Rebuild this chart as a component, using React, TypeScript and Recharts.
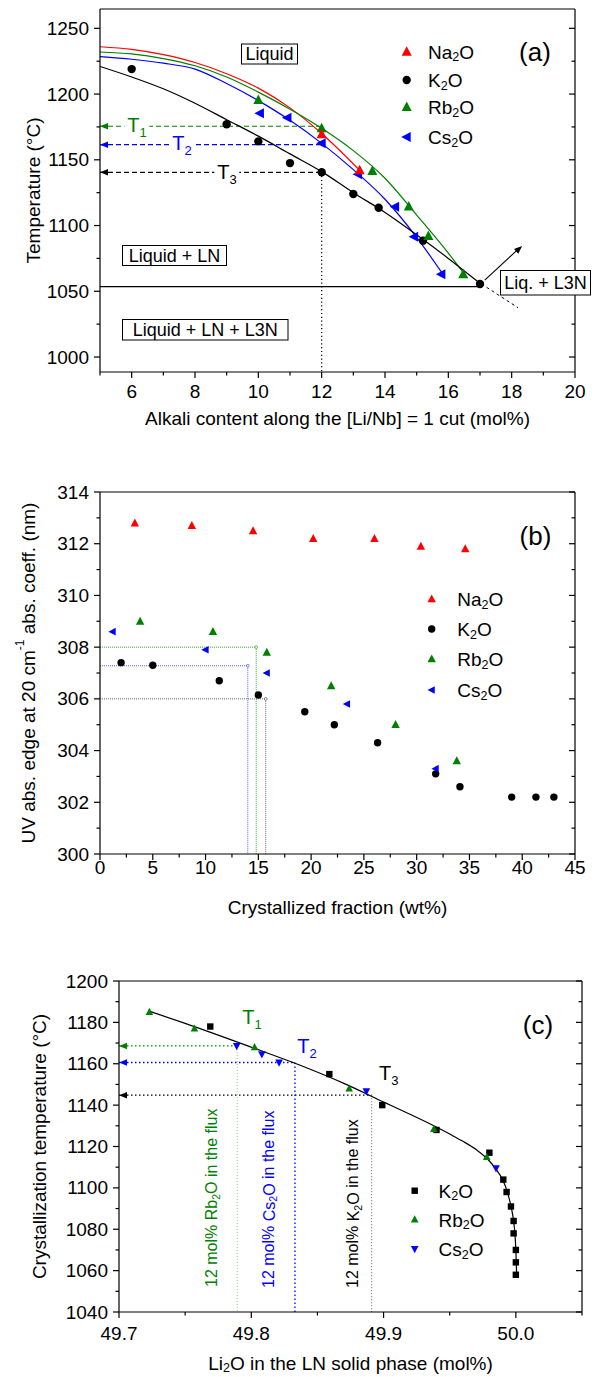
import React from "react";
import { ComposedChart, Line, Scatter, XAxis, YAxis, ReferenceLine, ReferenceDot } from "recharts";

const FONT = "'Liberation Sans', Arial, Helvetica, sans-serif";
const RED = "#ff0000";
const GREEN = "#008000";
const BLUE = "#0000ff";
const INK = "#000000";

// ---------- (a) liquidus along the [Li/Nb] = 1 cut ----------
const aXTicks = [5, 6, 7, 8, 9, 10, 11, 12, 13, 14, 15, 16, 17, 18, 19, 20];
const aXMajor = [6, 8, 10, 12, 14, 16, 18, 20];
const aYTicks = [1000, 1025, 1050, 1075, 1100, 1125, 1150, 1175, 1200, 1225, 1250];
const aYMajor = [1000, 1050, 1100, 1150, 1200, 1250];

const aNaPts = [{ x: 12, y: 1169.5 }, { x: 13.2, y: 1142 }];
const aKPts = [
  { x: 6, y: 1219 }, { x: 9, y: 1177 }, { x: 10, y: 1164 }, { x: 11, y: 1147.5 }, { x: 12, y: 1140.5 },
  { x: 13, y: 1124 }, { x: 13.8, y: 1113.5 }, { x: 15.2, y: 1088.5 }, { x: 17, y: 1055.5 },
];
const aRbPts = [
  { x: 10, y: 1195.5 }, { x: 12, y: 1174 }, { x: 13.6, y: 1141.5 }, { x: 14.75, y: 1114.5 },
  { x: 15.37, y: 1092 }, { x: 16.47, y: 1063 },
];
const aCsPts = [
  { x: 10.05, y: 1185.5 }, { x: 10.92, y: 1182 }, { x: 12, y: 1162.5 }, { x: 13.15, y: 1139 },
  { x: 14.32, y: 1114.3 }, { x: 14.92, y: 1091.5 }, { x: 15.78, y: 1063 },
];

const aNaCurve = [
  { x: 5, y: 1236 }, { x: 6, y: 1234 }, { x: 7, y: 1230 }, { x: 8, y: 1224 }, { x: 9, y: 1215.5 },
  { x: 10, y: 1204.5 }, { x: 11, y: 1189.5 }, { x: 12, y: 1170 }, { x: 13.2, y: 1142 },
];
const aKCurve = [
  { x: 5, y: 1221 }, { x: 6, y: 1213 }, { x: 7, y: 1204 }, { x: 8, y: 1193 }, { x: 9, y: 1180.5 },
  { x: 10, y: 1168 }, { x: 11, y: 1154.5 }, { x: 12, y: 1141 }, { x: 13, y: 1125 }, { x: 14, y: 1110 },
  { x: 15, y: 1093 }, { x: 16, y: 1075 }, { x: 17, y: 1056 },
];
const aRbCurve = [
  { x: 5, y: 1232 }, { x: 6, y: 1230.5 }, { x: 7, y: 1227 }, { x: 8, y: 1221.5 }, { x: 9, y: 1213 },
  { x: 10, y: 1201.5 }, { x: 11, y: 1188.5 }, { x: 12, y: 1174 }, { x: 13, y: 1157 }, { x: 14, y: 1136 },
  { x: 15, y: 1108 }, { x: 16, y: 1079 }, { x: 16.6, y: 1060 },
];
const aCsCurve = [
  { x: 5, y: 1228.5 }, { x: 6, y: 1226.5 }, { x: 7, y: 1223.5 }, { x: 8, y: 1219 }, { x: 9, y: 1208 },
  { x: 10, y: 1195 }, { x: 11, y: 1180 }, { x: 12, y: 1162.5 }, { x: 13, y: 1142.5 }, { x: 14, y: 1120 },
  { x: 15, y: 1091 }, { x: 15.8, y: 1064 },
];

// ---------- (b) UV edge vs crystallized fraction ----------
const bXTicks = [0, 2.5, 5, 7.5, 10, 12.5, 15, 17.5, 20, 22.5, 25, 27.5, 30, 32.5, 35, 37.5, 40, 42.5, 45];
const bXMajor = [0, 5, 10, 15, 20, 25, 30, 35, 40, 45];
const bYTicks = [300, 301, 302, 303, 304, 305, 306, 307, 308, 309, 310, 311, 312, 313, 314];
const bYMajor = [300, 302, 304, 306, 308, 310, 312, 314];

const bNaPts = [
  { x: 3.3, y: 312.8 }, { x: 8.7, y: 312.7 }, { x: 14.5, y: 312.5 }, { x: 20.2, y: 312.2 },
  { x: 26, y: 312.2 }, { x: 30.4, y: 311.9 }, { x: 34.6, y: 311.8 },
];
const bKPts = [
  { x: 2, y: 307.4 }, { x: 5, y: 307.3 }, { x: 11.3, y: 306.7 }, { x: 15, y: 306.15 }, { x: 19.4, y: 305.5 },
  { x: 22.2, y: 305 }, { x: 26.3, y: 304.3 }, { x: 31.8, y: 303.1 }, { x: 34.1, y: 302.6 },
  { x: 39, y: 302.2 }, { x: 41.3, y: 302.2 }, { x: 43, y: 302.2 },
];
const bRbPts = [
  { x: 3.8, y: 309 }, { x: 10.7, y: 308.6 }, { x: 15.8, y: 307.8 }, { x: 21.9, y: 306.5 },
  { x: 28, y: 305 }, { x: 33.8, y: 303.6 },
];
const bCsPts = [
  { x: 1.2, y: 308.6 }, { x: 10, y: 307.9 }, { x: 15.8, y: 307 }, { x: 23.4, y: 305.8 }, { x: 31.8, y: 303.3 },
];

// ---------- (c) crystallization temperature vs Li2O in LN ----------
const cXTicks = [49.7, 49.75, 49.8, 49.85, 49.9, 49.95, 50.0, 50.05];
const cXMajor = [49.7, 49.8, 49.9, 50.0];
const cYTicks = [1040, 1050, 1060, 1070, 1080, 1090, 1100, 1110, 1120, 1130, 1140, 1150, 1160, 1170, 1180, 1190, 1200];
const cYMajor = [1040, 1060, 1080, 1100, 1120, 1140, 1160, 1180, 1200];

const cKPts = [
  { x: 49.769, y: 1178 }, { x: 49.859, y: 1155 }, { x: 49.899, y: 1140 }, { x: 49.94, y: 1128 },
  { x: 49.98, y: 1117 }, { x: 49.9905, y: 1104 }, { x: 49.993, y: 1098 }, { x: 49.9963, y: 1091 },
  { x: 49.9983, y: 1084 }, { x: 49.9983, y: 1078 }, { x: 50.0, y: 1070 }, { x: 50.0, y: 1064 }, { x: 50.0, y: 1058 },
];
const cRbPts = [
  { x: 49.723, y: 1185 }, { x: 49.757, y: 1177 }, { x: 49.8025, y: 1168 }, { x: 49.874, y: 1148 },
  { x: 49.938, y: 1128.5 }, { x: 49.978, y: 1115 },
];
const cCsPts = [
  { x: 49.789, y: 1168.6 }, { x: 49.808, y: 1164.6 }, { x: 49.821, y: 1160.6 }, { x: 49.887, y: 1146.7 },
  { x: 49.985, y: 1109.5 },
];
const cCurve = [
  { x: 49.7234, y: 1185.3 }, { x: 49.75, y: 1179.5 }, { x: 49.8, y: 1168 }, { x: 49.836, y: 1159.5 },
  { x: 49.87, y: 1150.5 }, { x: 49.9, y: 1141.5 }, { x: 49.938, y: 1130 }, { x: 49.95, y: 1126 },
  { x: 49.96, y: 1122.5 }, { x: 49.97, y: 1118.5 }, { x: 49.98, y: 1113 }, { x: 49.985, y: 1109 },
  { x: 49.99, y: 1104 }, { x: 49.994, y: 1097 }, { x: 49.997, y: 1089 }, { x: 49.999, y: 1080 },
  { x: 50.0, y: 1070 }, { x: 50.0006, y: 1058 },
];

// ---------- helpers ----------
const axisStroke = { stroke: INK, strokeWidth: 1.2 };

function drawMarker(kind: string, cx: number, cy: number, s: number, color: string) {
  switch (kind) {
    case "circle":
      return <circle cx={cx} cy={cy} r={s} fill={color} />;
    case "up":
      return <path d={`M${cx},${cy - s * 1.1}L${cx + s},${cy + s * 0.8}L${cx - s},${cy + s * 0.8}Z`} fill={color} />;
    case "down":
      return <path d={`M${cx},${cy + s * 1.1}L${cx + s},${cy - s * 0.8}L${cx - s},${cy - s * 0.8}Z`} fill={color} />;
    case "left":
      return <path d={`M${cx - s * 1.1},${cy}L${cx + s * 0.8},${cy - s}L${cx + s * 0.8},${cy + s}Z`} fill={color} />;
    default:
      return <rect x={cx - s} y={cy - s} width={2 * s} height={2 * s} fill={color} />;
  }
}
const marker = (kind: string, color: string, s: number) => (p: any) => drawMarker(kind, p.cx, p.cy, s, color);

// arrow head with the tip on the point, pointing at `angle` degrees
const arrowHead = (color: string, angle = 180) => (p: any) => (
  <path
    d="M0,0L-8,-3.2L-8,3.2Z"
    fill={color}
    transform={`translate(${p.cx},${p.cy}) rotate(${angle})`}
  />
);

function AxisTick(props: any) {
  const { x, y, payload, side, majors, digits = 0, dy = 25 } = props;
  const v = payload.value;
  const major = majors.some((m: number) => Math.abs(m - v) < 1e-6);
  const len = major ? 6 : 3.5;
  const label = major ? v.toFixed(digits) : "";
  const txt = { fontSize: 19, fontFamily: FONT, fill: INK };
  if (side === "left")
    return (
      <g>
        <line x1={x} y1={y} x2={x - len} y2={y} stroke={INK} strokeWidth={1.2} />
        {major && <text x={x - 11} y={y} textAnchor="end" dominantBaseline="central" {...txt}>{label}</text>}
      </g>
    );
  if (side === "right") return <line x1={x} y1={y} x2={x - len} y2={y} stroke={INK} strokeWidth={1.2} />;
  if (side === "top") return <line x1={x} y1={y} x2={x} y2={y + len} stroke={INK} strokeWidth={1.2} />;
  return (
    <g>
      <line x1={x} y1={y} x2={x} y2={y + len} stroke={INK} strokeWidth={1.2} />
      {major && <text x={x} y={y + dy} textAnchor="middle" {...txt}>{label}</text>}
    </g>
  );
}

function frameAxes(xDom: number[], yDom: number[], xT: number[], xM: number[], yT: number[], yM: number[], xDigits: number, xHeight: number, labelDy: number) {
  const common = { type: "number" as const, allowDataOverflow: true, interval: 0 as const, tickSize: 0, tickMargin: 0, tickLine: false, axisLine: axisStroke };
  return [
    <XAxis key="xb" dataKey="x" domain={xDom} ticks={xT} height={xHeight} {...common}
      tick={(p: any) => <AxisTick {...p} side="bottom" majors={xM} digits={xDigits} dy={labelDy} />} />,
    <XAxis key="xt" xAxisId="top" orientation="top" mirror domain={xDom} ticks={xT} {...common}
      tick={(p: any) => <AxisTick {...p} side="top" majors={xM} />} />,
    <YAxis key="yl" dataKey="y" domain={yDom} ticks={yT} width={60} {...common}
      tick={(p: any) => <AxisTick {...p} side="left" majors={yM} />} />,
    <YAxis key="yr" yAxisId="right" orientation="right" mirror domain={yDom} ticks={yT} {...common}
      tick={(p: any) => <AxisTick {...p} side="right" majors={yM} />} />,
  ];
}

function Ox({ m, fs }: { m: string; fs: number }) {
  const d = fs * 0.3;
  return (
    <>
      <tspan>{m}</tspan>
      <tspan fontSize={fs * 0.66} dy={d}>2</tspan>
      <tspan dy={-d}>O</tspan>
    </>
  );
}

function TLabel({ x, y, n, color, bg }: any) {
  return (
    <g>
      {bg && <rect x={x - 9} y={y - 10} width={25} height={19} fill="#fff" />}
      <text x={x - 6} y={y + 7} fontSize={20} fill={color} fontFamily={FONT}>
        T<tspan fontSize={13} dy={5}>{n}</tspan>
      </text>
    </g>
  );
}

function LegendRows({ sx, tx, rows }: any) {
  return (
    <g>
      {rows.map((r: any) => (
        <g key={r.m}>
          {drawMarker(r.kind, sx, r.y, r.s, r.color)}
          <text x={tx} y={r.y} dominantBaseline="central" fontSize={19} fontFamily={FONT} fill={INK}>
            <Ox m={r.m} fs={19} />
          </text>
        </g>
      ))}
    </g>
  );
}

function BoxLabel({ x, y, w, h, text }: any) {
  return (
    <g>
      <rect x={x} y={y} width={w} height={h} fill="#fff" stroke={INK} strokeWidth={1} />
      <text x={x + w / 2} y={y + h / 2} textAnchor="middle" dominantBaseline="central" fontSize={18} fontFamily={FONT} fill={INK}>
        {text}
      </text>
    </g>
  );
}

// ---------- panels ----------
function PanelA() {
  return (
    <ComposedChart width={595} height={420} margin={{ top: 9, right: 20, bottom: 0, left: 40 }}>
      {frameAxes([5, 20], [988.6, 1264.7], aXTicks, aXMajor, aYTicks, aYMajor, 0, 48, 26)}
      <ReferenceLine segment={[{ x: 5, y: 1053.5 }, { x: 17, y: 1053.5 }]} stroke={INK} strokeWidth={1.2} ifOverflow="visible" />
      <ReferenceLine segment={[{ x: 12, y: 1140.5 }, { x: 12, y: 988.6 }]} stroke={INK} strokeWidth={1.2} strokeDasharray="1.2 2.6" ifOverflow="visible" />
      <ReferenceLine segment={[{ x: 5, y: 1175.5 }, { x: 12, y: 1175.5 }]} stroke={GREEN} strokeWidth={1.2} strokeDasharray="5 3" ifOverflow="visible" />
      <ReferenceLine segment={[{ x: 5, y: 1161.5 }, { x: 12, y: 1161.5 }]} stroke={BLUE} strokeWidth={1.2} strokeDasharray="5 3" ifOverflow="visible" />
      <ReferenceLine segment={[{ x: 5, y: 1140.5 }, { x: 12, y: 1140.5 }]} stroke={INK} strokeWidth={1.2} strokeDasharray="5 3" ifOverflow="visible" />
      <ReferenceLine segment={[{ x: 17.05, y: 1055.5 }, { x: 18.2, y: 1037.5 }]} stroke={INK} strokeWidth={1} strokeDasharray="3 3" ifOverflow="visible" />
      <ReferenceLine segment={[{ x: 17.15, y: 1058.5 }, { x: 18.25, y: 1083 }]} stroke={INK} strokeWidth={1.1} ifOverflow="visible" />
      <ReferenceDot x={18.33} y={1084.5} ifOverflow="visible" shape={arrowHead(INK, -42)} />
      <ReferenceDot x={5} y={1175.5} ifOverflow="visible" shape={arrowHead(GREEN)} />
      <ReferenceDot x={5} y={1161.5} ifOverflow="visible" shape={arrowHead(BLUE)} />
      <ReferenceDot x={5} y={1140.5} ifOverflow="visible" shape={arrowHead(INK)} />
      <Line data={aNaCurve} dataKey="y" type="monotone" stroke={RED} strokeWidth={1.2} dot={false} activeDot={false} isAnimationActive={false} />
      <Line data={aRbCurve} dataKey="y" type="monotone" stroke={GREEN} strokeWidth={1.2} dot={false} activeDot={false} isAnimationActive={false} />
      <Line data={aCsCurve} dataKey="y" type="monotone" stroke={BLUE} strokeWidth={1.2} dot={false} activeDot={false} isAnimationActive={false} />
      <Line data={aKCurve} dataKey="y" type="monotone" stroke={INK} strokeWidth={1.2} dot={false} activeDot={false} isAnimationActive={false} />
      <Scatter data={aCsPts} shape={marker("left", BLUE, 5)} isAnimationActive={false} />
      <Scatter data={aKPts} shape={marker("circle", INK, 4.2)} isAnimationActive={false} />
      <Scatter data={aRbPts} shape={marker("up", GREEN, 5)} isAnimationActive={false} />
      <Scatter data={aNaPts} shape={marker("up", RED, 5)} isAnimationActive={false} />
    </ComposedChart>
  );
}

function PanelB() {
  const dotted = { strokeWidth: 0.9, strokeDasharray: "1 1", ifOverflow: "visible" as const };
  return (
    <ComposedChart width={595} height={430} margin={{ top: 22, right: 20, bottom: 0, left: 40 }}>
      {frameAxes([0, 45], [300, 314], bXTicks, bXMajor, bYTicks, bYMajor, 0, 46, 20)}
      <ReferenceLine segment={[{ x: 0, y: 308 }, { x: 14.8, y: 308 }]} stroke="#22a022" {...dotted} />
      <ReferenceLine segment={[{ x: 14.8, y: 308 }, { x: 14.8, y: 300 }]} stroke="#22a022" {...dotted} />
      <ReferenceLine segment={[{ x: 0, y: 307.28 }, { x: 14, y: 307.28 }]} stroke="#4a4aff" {...dotted} />
      <ReferenceLine segment={[{ x: 14, y: 307.28 }, { x: 14, y: 300 }]} stroke="#4a4aff" {...dotted} />
      <ReferenceLine segment={[{ x: 0, y: 306 }, { x: 15.7, y: 306 }]} stroke="#555" {...dotted} />
      <ReferenceLine segment={[{ x: 15.7, y: 306 }, { x: 15.7, y: 300 }]} stroke="#555" {...dotted} />
      <ReferenceDot x={14.8} y={308} r={1.4} fill="#fff" stroke="#22a022" strokeWidth={0.7} ifOverflow="visible" />
      <ReferenceDot x={14} y={307.28} r={1.4} fill="#fff" stroke="#4a4aff" strokeWidth={0.7} ifOverflow="visible" />
      <ReferenceDot x={15.7} y={306} r={1.4} fill="#fff" stroke="#555" strokeWidth={0.7} ifOverflow="visible" />
      <Scatter data={bNaPts} shape={marker("up", RED, 4.2)} isAnimationActive={false} />
      <Scatter data={bKPts} shape={marker("circle", INK, 3.7)} isAnimationActive={false} />
      <Scatter data={bRbPts} shape={marker("up", GREEN, 4.2)} isAnimationActive={false} />
      <Scatter data={bCsPts} shape={marker("left", BLUE, 3.8)} isAnimationActive={false} />
    </ComposedChart>
  );
}

function PanelC() {
  const dot = { strokeWidth: 1.3, strokeDasharray: "1.5 2.5", ifOverflow: "visible" as const };
  const thin = { strokeWidth: 0.9, strokeDasharray: "1 2", ifOverflow: "visible" as const };
  return (
    <ComposedChart width={595} height={400} margin={{ top: 21, right: 13, bottom: 0, left: 59 }}>
      {frameAxes([49.7, 50.05], [1040, 1200], cXTicks, cXMajor, cYTicks, cYMajor, 1, 48, 28)}
      <ReferenceLine segment={[{ x: 49.7, y: 1168.6 }, { x: 49.7894, y: 1168.6 }]} stroke={GREEN} {...dot} />
      <ReferenceLine segment={[{ x: 49.7894, y: 1168.6 }, { x: 49.7894, y: 1040 }]} stroke="#7cc47c" {...thin} />
      <ReferenceLine segment={[{ x: 49.7, y: 1160.6 }, { x: 49.833, y: 1160.6 }]} stroke={BLUE} {...dot} />
      <ReferenceLine segment={[{ x: 49.833, y: 1160.6 }, { x: 49.833, y: 1040 }]} stroke={BLUE} {...dot} />
      <ReferenceLine segment={[{ x: 49.7, y: 1144.8 }, { x: 49.891, y: 1144.8 }]} stroke={INK} {...dot} />
      <ReferenceLine segment={[{ x: 49.891, y: 1144.8 }, { x: 49.891, y: 1040 }]} stroke="#555" {...thin} />
      <ReferenceDot x={49.7} y={1168.6} ifOverflow="visible" shape={arrowHead(GREEN)} />
      <ReferenceDot x={49.7} y={1160.6} ifOverflow="visible" shape={arrowHead(BLUE)} />
      <ReferenceDot x={49.7} y={1144.8} ifOverflow="visible" shape={arrowHead(INK)} />
      <Line data={cCurve} dataKey="y" type="monotone" stroke={INK} strokeWidth={1.2} dot={false} activeDot={false} isAnimationActive={false} />
      <Scatter data={cKPts} shape={marker("square", INK, 3.2)} isAnimationActive={false} />
      <Scatter data={cRbPts} shape={marker("up", GREEN, 3.8)} isAnimationActive={false} />
      <Scatter data={cCsPts} shape={marker("down", BLUE, 3.8)} isAnimationActive={false} />
    </ComposedChart>
  );
}

function Annotations() {
  const t = { fontFamily: FONT, fill: INK };
  return (
    <svg width={595} height={1377} style={{ position: "absolute", left: 0, top: 0, pointerEvents: "none" }}>
      {/* (a) */}
      <BoxLabel x={241.5} y={44} w={56} h={20} text="Liquid" />
      <BoxLabel x={122.5} y={245.5} w={104} h={20} text="Liquid + LN" />
      <BoxLabel x={122.5} y={319.5} w={165.5} h={20.5} text="Liquid + LN + L3N" />
      <BoxLabel x={500.5} y={270.5} w={90} h={24.5} text="Liq. + L3N" />
      <TLabel x={133.3} y={125} n="1" color={GREEN} bg />
      <TLabel x={178.3} y={143.3} n="2" color={BLUE} bg />
      <TLabel x={223.3} y={171.7} n="3" color={INK} bg />
      <LegendRows sx={406.7} tx={428} rows={[
        { kind: "up", color: RED, s: 5, m: "Na", y: 51.7 },
        { kind: "circle", color: INK, s: 4.2, m: "K", y: 80 },
        { kind: "up", color: GREEN, s: 5, m: "Rb", y: 107 },
        { kind: "left", color: BLUE, s: 5, m: "Cs", y: 137 },
      ]} />
      <text x={535} y={52} textAnchor="middle" dominantBaseline="central" fontSize={26} {...t}>(a)</text>
      <text x={33} y={190.5} transform="rotate(-90 33 190.5)" textAnchor="middle" dominantBaseline="central" fontSize={19} {...t}>
        Temperature (°C)
      </text>
      <text x={337.5} y={418} textAnchor="middle" dominantBaseline="central" fontSize={19} {...t}>
        Alkali content along the [Li/Nb] = 1 cut (mol%)
      </text>

      {/* (b) */}
      <LegendRows sx={431.7} tx={457.3} rows={[
        { kind: "up", color: RED, s: 4.2, m: "Na", y: 599 },
        { kind: "circle", color: INK, s: 3.7, m: "K", y: 629 },
        { kind: "up", color: GREEN, s: 4.2, m: "Rb", y: 659 },
        { kind: "left", color: BLUE, s: 3.8, m: "Cs", y: 690 },
      ]} />
      <text x={535.5} y={536} textAnchor="middle" dominantBaseline="central" fontSize={26} {...t}>(b)</text>
      <text x={28} y={673} transform="rotate(-90 28 673)" textAnchor="middle" dominantBaseline="central" fontSize={19} {...t}>
        UV abs. edge at 20 cm<tspan fontSize={12} dy={-8}>-1</tspan>
        <tspan dy={8}> abs. coeff. (nm)</tspan>
      </text>
      <text x={337.5} y={907} textAnchor="middle" dominantBaseline="central" fontSize={19} {...t}>
        Crystallized fraction (wt%)
      </text>

      {/* (c) */}
      <TLabel x={248.3} y={1016.7} n="1" color={GREEN} />
      <TLabel x={303.3} y={1045.7} n="2" color={BLUE} />
      <TLabel x={385} y={1073.3} n="3" color={INK} />
      <text x={211.4} y={1287} transform="rotate(-90 211.4 1287)" dominantBaseline="central" fontSize={16} fontFamily={FONT} fill={GREEN}>
        12 mol% <Ox m="Rb" fs={16} /> in the flux
      </text>
      <text x={268.7} y={1288} transform="rotate(-90 268.7 1288)" dominantBaseline="central" fontSize={16} fontFamily={FONT} fill={BLUE}>
        12 mol% <Ox m="Cs" fs={16} /> in the flux
      </text>
      <text x={352.8} y={1288} transform="rotate(-90 352.8 1288)" dominantBaseline="central" fontSize={16} fontFamily={FONT} fill={INK}>
        12 mol% <Ox m="K" fs={16} /> in the flux
      </text>
      <LegendRows sx={414.7} tx={438.5} rows={[
        { kind: "square", color: INK, s: 3.2, m: "K", y: 1190.7 },
        { kind: "up", color: GREEN, s: 3.8, m: "Rb", y: 1219.5 },
        { kind: "down", color: BLUE, s: 3.8, m: "Cs", y: 1249 },
      ]} />
      <text x={538} y={1025} textAnchor="middle" dominantBaseline="central" fontSize={26} {...t}>(c)</text>
      <text x={39} y={1146.5} transform="rotate(-90 39 1146.5)" textAnchor="middle" dominantBaseline="central" fontSize={19} {...t}>
        Crystallization temperature (°C)
      </text>
      <text x={350.5} y={1363} textAnchor="middle" dominantBaseline="central" fontSize={19} {...t}>
        Li<tspan fontSize={12.5} dy={5}>2</tspan><tspan dy={-5}>O in the LN solid phase (mol%)</tspan>
      </text>
    </svg>
  );
}

export default function App() {
  return (
    <div style={{ position: "absolute", left: 0, top: 0, width: 595, height: 1377, background: "#fff", fontFamily: FONT }}>
      <div style={{ position: "absolute", left: 0, top: 0 }}>
        <PanelA />
      </div>
      <div style={{ position: "absolute", left: 0, top: 470 }}>
        <PanelB />
      </div>
      <div style={{ position: "absolute", left: 0, top: 960 }}>
        <PanelC />
      </div>
      <Annotations />
    </div>
  );
}
